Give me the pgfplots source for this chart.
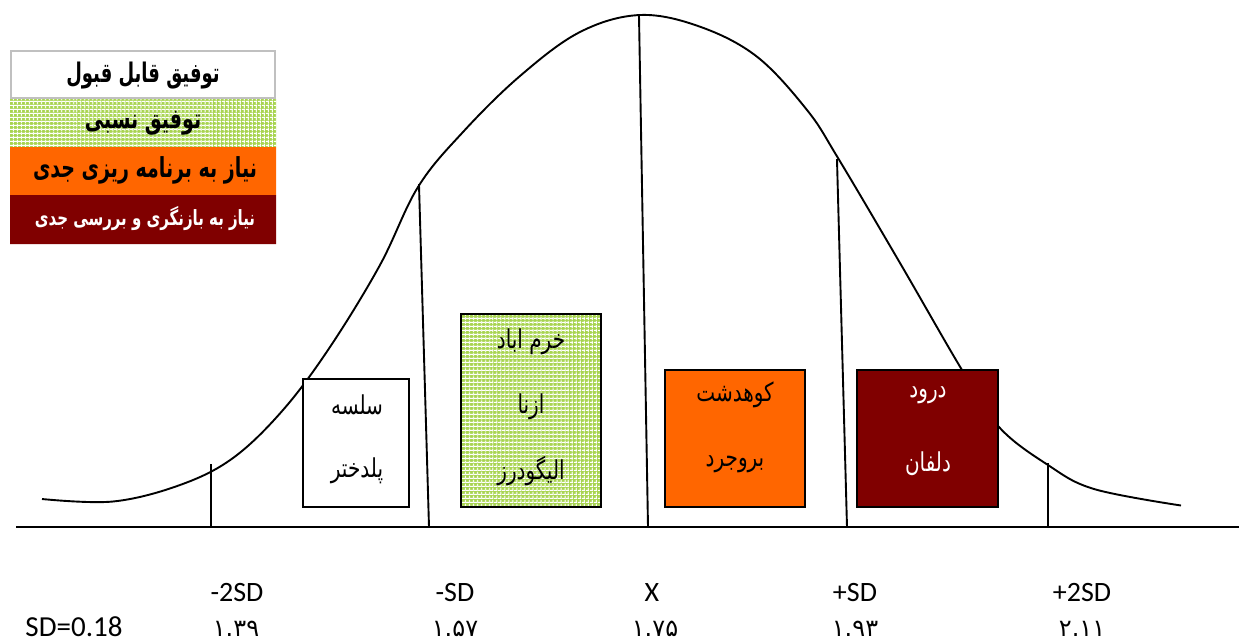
\documentclass[border=0pt]{standalone}
\usepackage{pgfplots}
\pgfplotsset{compat=1.18}
\usepackage{graphicx}
\usepackage{fontspec}
\usetikzlibrary{patterns.meta}
\setmainfont{Carlito}
\newfontfamily\fa[Script=Arabic]{DejaVu Sans}
\newfontfamily\fanum{DejaVu Sans}
\TeXXeTstate=1
\definecolor{orng}{RGB}{255,102,0}
\definecolor{maroon}{RGB}{128,0,0}
\definecolor{lgreen}{RGB}{168,212,80}
\definecolor{lgray}{RGB}{192,192,192}
% Persian text, stretched upward a little to look like Arial's Arabic
\newcommand{\fat}[2][1.3]{\scalebox{1}[#1]{\fa\beginR #2\endR}}
\tikzset{
  meshfill/.style={fill=lgreen,
    postaction={pattern={Lines[angle=0,distance=4pt,line width=1pt]}, pattern color=white},
    postaction={pattern={Lines[angle=90,distance=4pt,line width=1pt]}, pattern color=white}}
}

\begin{document}
\begin{tikzpicture}
\begin{axis}[
    width=1239pt, height=641pt, scale only axis,
    xmin=0, xmax=1239, ymin=0, ymax=641, y dir=reverse,
    hide axis, clip=false,
    every axis plot/.append style={line join=miter, line cap=rect}
  ]
  % bell curve
  \addplot[black, line width=1.9pt, smooth, tension=0.6, line cap=butt] coordinates {
    (42,499)(113,501.5)(180,485)(233,458)(283,410)(330,347)(380,265)(418,187)
    (463,132)(520,76)(580,32)(640,15)(700,26.7)(757,56.7)(807,110)(838,158)
    (900,263)(962,370)(999,427)(1048,465)(1094,489)(1181,505.5)
  };
  % base line
  \addplot[black, line width=2pt] coordinates {(17,527)(1239,527)};
  % SD dividers
  \addplot[black, line width=1.9pt] coordinates {(211,465)(211,527)};
  \addplot[black, line width=1.9pt] coordinates {(419,185)(429,527)};
  \addplot[black, line width=1.9pt] coordinates {(639,16)(648,527)};
  \addplot[black, line width=1.9pt] coordinates {(837,160)(847,527)};
  \addplot[black, line width=1.9pt] coordinates {(1048,464)(1048,527)};

  % region boxes
  \addplot[draw=black, line width=1.8pt, fill=white] coordinates {(303,379)(409,379)(409,507)(303,507)(303,379)};
  \addplot[draw=black, line width=1.8pt, meshfill] coordinates {(461,314)(601,314)(601,507)(461,507)(461,314)};
  \addplot[draw=black, line width=1.8pt, fill=orng] coordinates {(665,370)(805,370)(805,507)(665,507)(665,370)};
  \addplot[draw=black, line width=1.8pt, fill=maroon] coordinates {(857,370)(998,370)(998,507)(857,507)(857,370)};

  % key
  \addplot[draw=lgray, line width=1.5pt, fill=white] coordinates {(11,51)(275,51)(275,98)(11,98)(11,51)};
  \addplot[draw=none, meshfill] coordinates {(10,99)(276,99)(276,147)(10,147)(10,99)};
  \addplot[draw=none, fill=orng] coordinates {(10,147)(276,147)(276,195)(10,195)(10,147)};
  \addplot[draw=none, fill=maroon] coordinates {(10,195)(276,195)(276,244)(10,244)(10,195)};

  \node[font=\bfseries\fontsize{18}{22}\selectfont] at (axis cs:143,76) {\fat[1.5]{توفیق قابل قبول}};
  \node[font=\bfseries\fontsize{19}{23}\selectfont] at (axis cs:143,123) {\fat[1.45]{توفیق نسبی}};
  \node[font=\bfseries\fontsize{19}{23}\selectfont] at (axis cs:145,170) {\fat[1.45]{نیاز به برنامه ریزی جدی}};
  \node[font=\bfseries\fontsize{15}{18}\selectfont, text=white] at (axis cs:145,219) {\fat[1.4]{نیاز به بازنگری و بررسی جدی}};

  % box labels
  \node[font=\fontsize{20}{24}\selectfont] at (axis cs:357,405) {\fat{سلسه}};
  \node[font=\fontsize{20}{24}\selectfont] at (axis cs:357,471) {\fat{پلدختر}};
  \node[font=\fontsize{20}{24}\selectfont] at (axis cs:531,342) {\fat{خرم اباد}};
  \node[font=\fontsize{20}{24}\selectfont] at (axis cs:531,407) {\fat{ازنا}};
  \node[font=\fontsize{20}{24}\selectfont] at (axis cs:531,471) {\fat{الیگودرز}};
  \node[font=\fontsize{20}{24}\selectfont] at (axis cs:735,395) {\fat{کوهدشت}};
  \node[font=\fontsize{20}{24}\selectfont] at (axis cs:735,464) {\fat{بروجرد}};
  \node[font=\fontsize{20}{24}\selectfont, text=white] at (axis cs:928,395) {\fat{درود}};
  \node[font=\fontsize{20}{24}\selectfont, text=white] at (axis cs:928,464) {\fat{دلفان}};

  % scale labels
  \node[font=\fontsize{28}{32}\selectfont, anchor=base] at (axis cs:237,601) {-2SD};
  \node[font=\fontsize{28}{32}\selectfont, anchor=base] at (axis cs:455,601) {-SD};
  \node[font=\fontsize{28}{32}\selectfont, anchor=base] at (axis cs:652,601) {X};
  \node[font=\fontsize{28}{32}\selectfont, anchor=base] at (axis cs:855,601) {+SD};
  \node[font=\fontsize{28}{32}\selectfont, anchor=base] at (axis cs:1082,601) {+2SD};
  \node[font=\fontsize{29}{33}\selectfont, anchor=base] at (axis cs:74,636) {SD=0.18};
  \node[font=\fanum\fontsize{24}{28}\selectfont, anchor=base] at (axis cs:236,636) {۱.۳۹};
  \node[font=\fanum\fontsize{24}{28}\selectfont, anchor=base] at (axis cs:455,636) {۱.۵۷};
  \node[font=\fanum\fontsize{24}{28}\selectfont, anchor=base] at (axis cs:655,636) {۱.۷۵};
  \node[font=\fanum\fontsize{24}{28}\selectfont, anchor=base] at (axis cs:855,636) {۱.۹۳};
  \node[font=\fanum\fontsize{24}{28}\selectfont, anchor=base] at (axis cs:1082,636) {۲.۱۱};
\end{axis}
\pgfresetboundingbox
\path (current axis.south west) rectangle (current axis.north east);
\end{tikzpicture}
\end{document}
